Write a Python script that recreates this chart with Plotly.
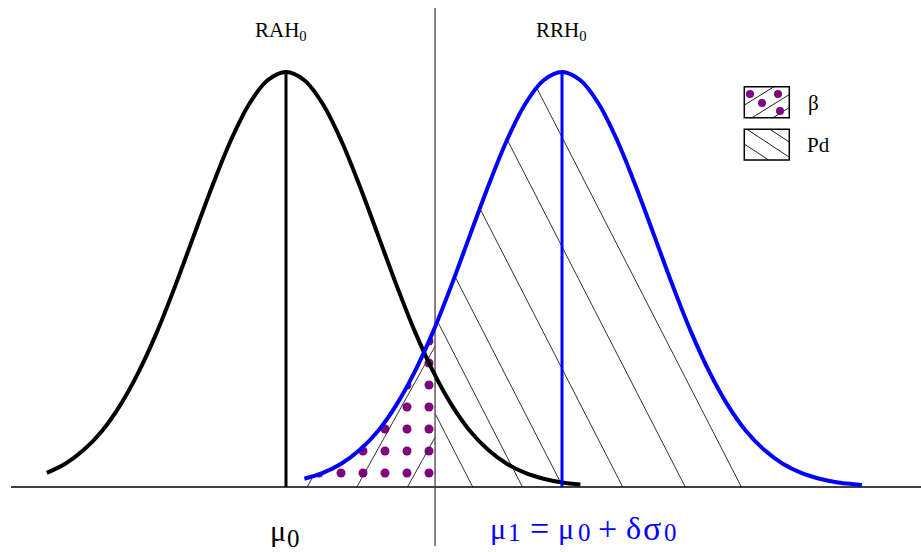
import numpy as np
import plotly.graph_objects as go

# ---------------- data (x in sigma units, height relative to peak) -------------
MU0 = 0.0
MU1 = 3.0
CRIT = 1.62

X_H0 = [-2.6, -2.4, -2.2, -2.0, -1.8, -1.6, -1.4, -1.2, -1.0, -0.8, -0.6, -0.4, -0.2, 0.0,
        0.2, 0.4, 0.6, 0.8, 1.0, 1.2, 1.4, 1.6, 1.8, 2.0, 2.2, 2.4, 2.6, 2.8, 3.0, 3.2]
Y_H0 = [0.034, 0.056, 0.089, 0.135, 0.198, 0.278, 0.375, 0.487, 0.607, 0.726, 0.835, 0.923, 0.980, 1.000,
        0.980, 0.923, 0.835, 0.726, 0.607, 0.487, 0.375, 0.278, 0.198, 0.135, 0.089, 0.056, 0.034, 0.020,
        0.011, 0.006]

X_H1 = [0.2, 0.4, 0.6, 0.8, 1.0, 1.2, 1.4, 1.6, 1.8, 2.0, 2.2, 2.4, 2.6, 2.8, 3.0,
        3.2, 3.4, 3.6, 3.8, 4.0, 4.2, 4.4, 4.6, 4.8, 5.0, 5.2, 5.4, 5.6, 5.8, 6.0, 6.2, 6.26]
Y_H1 = [0.020, 0.034, 0.056, 0.089, 0.135, 0.198, 0.278, 0.375, 0.487, 0.607, 0.726, 0.835, 0.923, 0.980, 1.000,
        0.980, 0.923, 0.835, 0.726, 0.607, 0.487, 0.375, 0.278, 0.198, 0.135, 0.089, 0.056, 0.034, 0.020,
        0.011, 0.006, 0.004]

TOP_LABELS = ["RAH<sub>0</sub>", "RRH<sub>0</sub>"]
LEGEND_LABELS = ["β", "Pd"]
# mean labels, written as pieces: (text, is_subscript)
MEAN_LABEL_0 = [("μ", False), ("0", True)]
MEAN_LABEL_1 = [("μ", False), ("1", True), ("=", False), ("μ", False), ("0", True),
                ("+", False), ("δ", False), ("σ", False), ("0", True)]

# ---------------- layout constants ----------------
W, H = 921, 552
X_RANGE = [-3.1087, 6.9022]
Y_RANGE = [-0.15663, 1.17349]
PX_X = W / (X_RANGE[1] - X_RANGE[0])
PX_Y = H / (Y_RANGE[1] - Y_RANGE[0])
SERIF = "Liberation Serif"
PURPLE = "#800080"
BLUE = "#0000ff"

PD_OFFSETS = [0.41, 0.95, 1.39, 2.04, 2.72, 3.33]
BETA_OFFSETS = [-1.39, -0.85, -0.30]
K_PD = 1.95 * PX_X / PX_Y
K_BETA = 1.8 * PX_X / PX_Y

# centres (px) of the label pieces
LABEL0_CX = [277.5, 293]
LABEL1_CX = [497.5, 514, 539, 566, 584, 607, 633, 652, 670]
PIECE_SIZE = {"=": 34, "+": 34, "δ": 32, "σ": 34}


def pp(px, py):
    return px / W, 1 - py / H


def blue_h(x):
    return np.interp(x, X_H1, Y_H1, left=0.0, right=0.0)


fig = go.Figure()

# beta region (dotted fill)
xb = [x for x in X_H1 if x < CRIT]
yb = [y for x, y in zip(X_H1, Y_H1) if x < CRIT]
yc = float(blue_h(CRIT))
poly_x = [xb[0]] + xb + [CRIT, CRIT, xb[0]]
poly_y = [0.0] + yb + [yc, 0.0, 0.0]
fig.add_trace(go.Scatter(x=poly_x, y=poly_y, mode="none", fill="toself",
                         fillcolor="rgba(0,0,0,0)",
                         fillpattern=dict(shape=".", fgcolor=PURPLE, bgcolor="rgba(0,0,0,0)",
                                          size=22, solidity=0.13, fillmode="replace"),
                         hoverinfo="skip", showlegend=False))

# Pd hatch lines "\"
for off in PD_OFFSETS:
    bx = CRIT + off
    xs = np.linspace(CRIT, bx, 3000)
    g = blue_h(xs) - K_PD * (bx - xs)
    neg = np.where(g < 0)[0]
    xstart = xs[neg[-1]] if len(neg) else CRIT
    fig.add_trace(go.Scatter(x=[xstart, bx], y=[K_PD * (bx - xstart), 0.0], mode="lines",
                             line=dict(color="#333333", width=1), hoverinfo="skip", showlegend=False))

# beta hatch lines "/"
for off in BETA_OFFSETS:
    bx = CRIT + off
    xs = np.linspace(bx, CRIT, 3000)
    g = blue_h(xs) - K_BETA * (xs - bx)
    neg = np.where(g < 0)[0]
    xend = xs[neg[0]] if len(neg) else CRIT
    fig.add_trace(go.Scatter(x=[bx, xend], y=[0.0, K_BETA * (xend - bx)], mode="lines",
                             line=dict(color="#333333", width=1), hoverinfo="skip", showlegend=False))

# baseline
fig.add_trace(go.Scatter(x=[(11 - 286) / PX_X, X_RANGE[1]], y=[0, 0], mode="lines",
                         line=dict(color="black", width=1.5), hoverinfo="skip", showlegend=False))
# critical value line
fig.add_trace(go.Scatter(x=[CRIT, CRIT], y=[-59 / PX_Y, 479 / PX_Y], mode="lines",
                         line=dict(color="#444444", width=1.3), hoverinfo="skip", showlegend=False))

# H0 curve
fig.add_trace(go.Scatter(x=X_H0, y=Y_H0, mode="lines", line=dict(color="black", width=4, shape="spline"),
                         hoverinfo="skip", showlegend=False))
fig.add_trace(go.Scatter(x=[MU0, MU0], y=[0, max(Y_H0)], mode="lines", line=dict(color="black", width=3),
                         hoverinfo="skip", showlegend=False))
# H1 curve
fig.add_trace(go.Scatter(x=X_H1, y=Y_H1, mode="lines", line=dict(color=BLUE, width=4, shape="spline"),
                         hoverinfo="skip", showlegend=False))
fig.add_trace(go.Scatter(x=[MU1, MU1], y=[0, max(Y_H1)], mode="lines", line=dict(color=BLUE, width=3),
                         hoverinfo="skip", showlegend=False))

# ---------------- legend (drawn) ----------------
shapes = []
BOX1 = (744.3, 86.7, 789.3, 117.7)
BOX2 = (744.3, 129.3, 789.3, 160.0)


def clipped(px0, py0, dx, dy, box):
    ts = np.linspace(-120, 120, 4801)
    xs = px0 + ts * dx
    ys = py0 + ts * dy
    m = (xs >= box[0]) & (xs <= box[2]) & (ys >= box[1]) & (ys <= box[3])
    if not m.any():
        return None
    i = np.where(m)[0]
    return xs[i[0]], ys[i[0]], xs[i[-1]], ys[i[-1]]


for xb0 in [724, 752, 773]:
    seg = clipped(xb0, BOX1[3], 1, -0.62, BOX1)
    if seg:
        a = pp(seg[0], seg[1]); b = pp(seg[2], seg[3])
        shapes.append(dict(type="line", xref="paper", yref="paper", x0=a[0], y0=a[1], x1=b[0], y1=b[1],
                           line=dict(color="#222", width=1)))
for xt0 in [722, 747, 770]:
    seg = clipped(xt0, BOX2[1], 1, 0.66, BOX2)
    if seg:
        a = pp(seg[0], seg[1]); b = pp(seg[2], seg[3])
        shapes.append(dict(type="line", xref="paper", yref="paper", x0=a[0], y0=a[1], x1=b[0], y1=b[1],
                           line=dict(color="#222", width=1)))
for (cx, cy) in [(750, 94), (778, 94), (762, 103), (780, 111)]:
    a = pp(cx - 4, cy + 4); b = pp(cx + 4, cy - 4)
    shapes.append(dict(type="circle", xref="paper", yref="paper", x0=a[0], y0=a[1], x1=b[0], y1=b[1],
                       fillcolor=PURPLE, line=dict(width=0)))
for box in (BOX1, BOX2):
    a = pp(box[0], box[3]); b = pp(box[2], box[1])
    shapes.append(dict(type="rect", xref="paper", yref="paper", x0=a[0], y0=a[1], x1=b[0], y1=b[1],
                       line=dict(color="black", width=1.5), fillcolor="rgba(0,0,0,0)"))

annotations = []


def ann(text, px, py, size, color="black", xanchor="center"):
    x, y = pp(px, py)
    annotations.append(dict(text=text, x=x, y=y, xref="paper", yref="paper", showarrow=False,
                            xanchor=xanchor, yanchor="middle", borderpad=0,
                            font=dict(family=SERIF, size=size, color=color)))


ann(TOP_LABELS[0], 281, 31, 21)
ann(TOP_LABELS[1], 561, 31, 21)
ann(LEGEND_LABELS[0], 807, 103, 21, xanchor="left")
ann(LEGEND_LABELS[1], 806, 145, 21, xanchor="left")


def label(pieces, centres, mid_main, mid_sub, color):
    for (txt, is_sub), cx in zip(pieces, centres):
        if is_sub:
            ann(txt, cx, mid_sub, 25, color=color)
        else:
            ann(txt, cx, mid_main, PIECE_SIZE.get(txt, 30), color=color)


label(MEAN_LABEL_0, LABEL0_CX, 530, 538, "black")
label(MEAN_LABEL_1, LABEL1_CX, 528, 532, BLUE)

fig.update_layout(
    width=W, height=H, margin=dict(l=0, r=0, t=0, b=0),
    paper_bgcolor="white", plot_bgcolor="white",
    xaxis=dict(range=X_RANGE, visible=False, fixedrange=True),
    yaxis=dict(range=Y_RANGE, visible=False, fixedrange=True),
    shapes=shapes, annotations=annotations, showlegend=False,
)

fig.write_html("out.html")
